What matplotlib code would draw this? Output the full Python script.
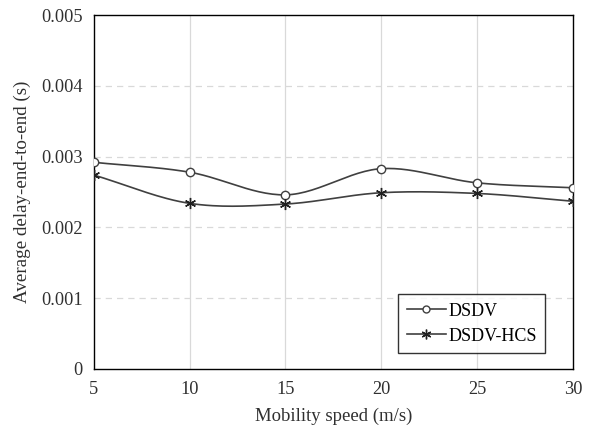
import matplotlib
matplotlib.use('Agg')
import matplotlib.pyplot as plt
import numpy as np

speed = [5, 10, 15, 20, 25, 30]
dsdv = [0.00292, 0.00278, 0.00246, 0.00283, 0.00263, 0.00256]
dsdv_hcs = [0.00274, 0.00234, 0.00233, 0.00249, 0.00248, 0.00237]
y_ticks = [0, 0.001, 0.002, 0.003, 0.004, 0.005]
y_labels = ['0', '0.001', '0.002', '0.003', '0.004', '0.005']


def smooth(x, y, n=30):
    # Catmull-Rom curve through the points, like a smoothed line in a spreadsheet
    x = np.asarray(x, float)
    y = np.asarray(y, float)
    px = np.concatenate([[2 * x[0] - x[1]], x, [2 * x[-1] - x[-2]]])
    py = np.concatenate([[2 * y[0] - y[1]], y, [2 * y[-1] - y[-2]]])
    xs, ys = [], []
    t = np.linspace(0, 1, n)
    for i in range(1, len(px) - 2):
        for p, out in ((px, xs), (py, ys)):
            p0, p1, p2, p3 = p[i - 1], p[i], p[i + 1], p[i + 2]
            out.append(0.5 * (2 * p1 + (-p0 + p2) * t
                              + (2 * p0 - 5 * p1 + 4 * p2 - p3) * t ** 2
                              + (-p0 + 3 * p1 - 3 * p2 + p3) * t ** 3))
    return np.concatenate(xs), np.concatenate(ys)


plt.rcParams['font.family'] = ['Liberation Serif', 'DejaVu Serif']

fig = plt.figure(figsize=(5.9, 4.32), dpi=100)
ax = fig.add_axes([0.159, 0.146, 0.812, 0.819])

line_col = '#404040'
sx, sy = smooth(speed, dsdv)
ax.plot(sx, sy, color=line_col, lw=1.2, zorder=3)
ax.plot(speed, dsdv, ls='none', marker='o', ms=6, mfc='white', mec=line_col, mew=1.0, zorder=4)
hx, hy = smooth(speed, dsdv_hcs)
ax.plot(hx, hy, color=line_col, lw=1.2, zorder=3)
ax.plot(speed, dsdv_hcs, ls='none', marker=(6, 2, 0), ms=8, mec='#202020', mew=1.0, zorder=4)

# legend handles
h1, = ax.plot([], [], color=line_col, lw=1.2, marker='o', ms=5, mfc='white', mec=line_col)
h2, = ax.plot([], [], color=line_col, lw=1.2, marker=(6, 2, 0), ms=7, mec='#202020')
leg = ax.legend([h1, h2], ['DSDV', 'DSDV-HCS'], loc='lower right',
                bbox_to_anchor=(0.96, 0.02), fontsize=13, frameon=True,
                fancybox=False, edgecolor='black', handlelength=2.2,
                handletextpad=0.1, borderpad=0.45, labelspacing=0.45)
leg.get_frame().set_linewidth(1.0)

ax.set_xlim(5, 30)
ax.set_ylim(0, 0.005)
ax.set_xticks(speed)
ax.set_yticks(y_ticks)
ax.set_yticklabels(y_labels)
ax.tick_params(length=0, labelsize=13.2, colors='#303030', pad=8)
ax.tick_params(axis='x', pad=9)

for x in speed[1:-1]:
    ax.axvline(x, color='#d9d9d9', lw=0.9, zorder=1)
for y in y_ticks[1:-1]:
    ax.axhline(y, color='#d9d9d9', lw=0.9, ls=(0, (5, 4)), zorder=1)

for s in ax.spines.values():
    s.set_color('black')
    s.set_linewidth(1.0)

ax.set_xlabel('Mobility speed (m/s)', fontsize=13.5, color='#303030', labelpad=7)
ax.set_ylabel('Average delay-end-to-end (s)', fontsize=13.7, color='#303030', labelpad=7)

fig.savefig('out.png', dpi=100)
